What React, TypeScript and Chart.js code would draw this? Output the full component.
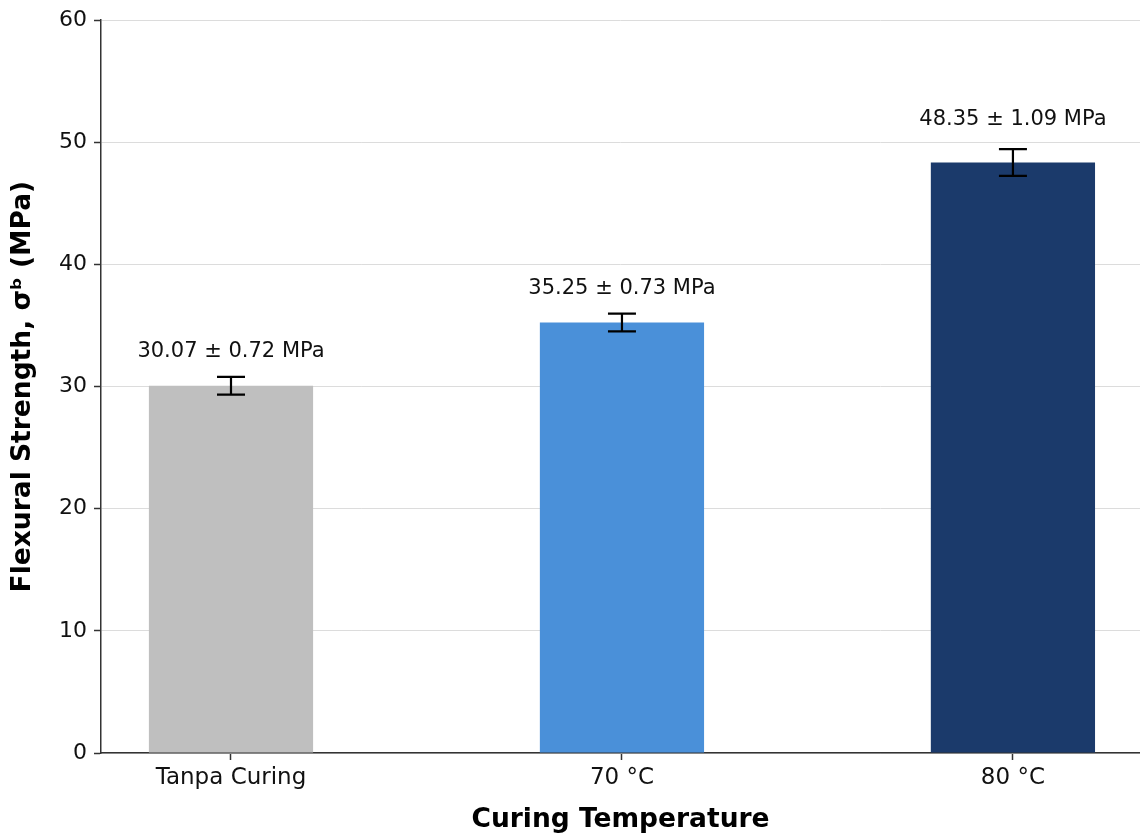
import React, { useEffect, useRef } from "react";
import { Chart, registerables } from "chart.js";

Chart.register(...registerables);

const categories = ["Tanpa Curing", "70 °C", "80 °C"];
const strengthValues = [30.07, 35.25, 48.35];
const strengthErrors = [0.72, 0.73, 1.09];
const barColors = ["#bfbfbf", "#4a90d9", "#1b3a6b"];
const yTickValues = [0, 10, 20, 30, 40, 50, 60];

const FONT = "'DejaVu Sans', sans-serif";

const errorBarPlugin = {
  id: "errorBars",
  afterDatasetsDraw(chart: any) {
    const { ctx, scales } = chart;
    const xs = scales.x;
    const ys = scales.y;
    ctx.save();
    categories.forEach((_, i) => {
      const v = strengthValues[i];
      const e = strengthErrors[i];
      const x = xs.getPixelForValue(i);
      const yTop = ys.getPixelForValue(v + e);
      const yBot = ys.getPixelForValue(v - e);
      ctx.strokeStyle = "#000";
      ctx.lineWidth = 2.2;
      ctx.beginPath();
      ctx.moveTo(x, yTop);
      ctx.lineTo(x, yBot);
      ctx.moveTo(x - 14, yTop);
      ctx.lineTo(x + 14, yTop);
      ctx.moveTo(x - 14, yBot);
      ctx.lineTo(x + 14, yBot);
      ctx.stroke();

      const label = `${v.toFixed(2)} ± ${e.toFixed(2)} MPa`;
      ctx.fillStyle = "#111";
      ctx.font = `21px ${FONT}`;
      ctx.textAlign = "center";
      ctx.textBaseline = "alphabetic";
      ctx.fillText(label, x, ys.getPixelForValue(v + 2 * e + 0.9));
    });
    ctx.restore();
  },
};

export default function App() {
  const ref = useRef<HTMLCanvasElement>(null);

  useEffect(() => {
    if (!ref.current) return;
    const chart = new Chart(ref.current, {
      type: "bar",
      data: {
        datasets: [
          {
            data: categories.map((_, i) => ({ x: i, y: strengthValues[i] })),
            backgroundColor: barColors,
            borderWidth: 0,
            categoryPercentage: 1,
            barPercentage: 0.42,
          } as any,
        ],
      },
      options: {
        animation: false,
        responsive: true,
        maintainAspectRatio: false,
        layout: { padding: { top: 20, right: 0, left: 0, bottom: 0 } },
        plugins: {
          legend: { display: false },
          tooltip: { enabled: false },
        },
        scales: {
          x: {
            type: "linear",
            offset: false,
            min: -0.3325,
            max: 2.325,
            afterBuildTicks: (scale: any) => {
              scale.ticks = categories.map((_, i) => ({ value: i }));
            },
            afterFit: (scale: any) => {
              scale.height = 83;
            },
            ticks: {
              autoSkip: false,
              maxRotation: 0,
              padding: 4,
              color: "#111",
              font: { family: FONT, size: 23 },
              callback: (v: any) => categories[v] ?? "",
            },
            grid: {
              offset: false,
              drawOnChartArea: false,
              drawTicks: true,
              tickLength: 7,
              tickColor: "#333",
              tickWidth: 1.5,
            },
            border: { color: "#333", width: 1.5 },
            title: {
              display: true,
              text: "Curing Temperature",
              color: "#000",
              font: { family: FONT, size: 26.5, weight: "bold" },
              padding: { top: 0, bottom: 0 },
            },
          },
          y: {
            min: 0,
            max: 60,
            afterBuildTicks: (scale: any) => {
              scale.ticks = yTickValues.map((v) => ({ value: v }));
            },
            afterFit: (scale: any) => {
              scale.width = 101;
            },
            ticks: {
              padding: 7,
              color: "#111",
              font: { family: FONT, size: 22 },
            },
            grid: {
              color: "#dcdcdc",
              lineWidth: 1,
              tickLength: 7,
              tickColor: "#333",
              tickWidth: 1.5,
            },
            border: { color: "#333", width: 1.5 },
            title: {
              display: true,
              text: "Flexural Strength, σᵇ (MPa)",
              color: "#000",
              font: { family: FONT, size: 26.5, weight: "bold" },
              padding: { top: 7, bottom: 0 },
            },
          },
        },
      },
      plugins: [errorBarPlugin],
    });
    return () => chart.destroy();
  }, []);

  return (
    <div style={{ position: "absolute", left: 0, top: 0, width: 1140, height: 836 }}>
      <canvas ref={ref} />
    </div>
  );
}
